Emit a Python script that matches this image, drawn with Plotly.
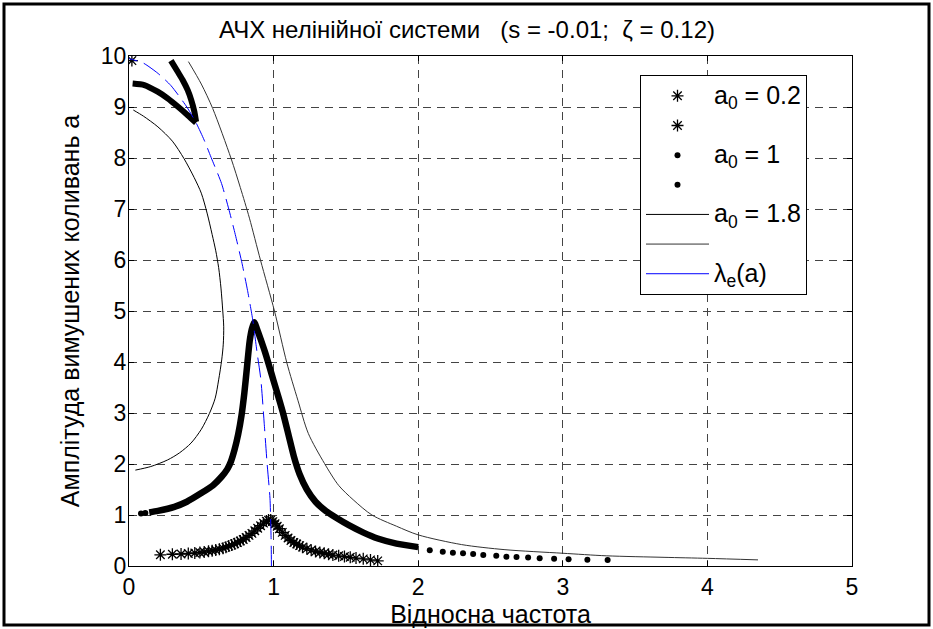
import plotly.graph_objects as go

# ---------------- data ----------------
# a0 = 0.2, lower branch (asterisks)
x02_lo = [0.217, 0.30, 0.36, 0.41, 0.455, 0.49, 0.52, 0.55, 0.575, 0.60, 0.625, 0.65, 0.67, 0.69, 0.71,
          0.73, 0.75, 0.77, 0.79, 0.81, 0.83, 0.85, 0.87, 0.89, 0.91, 0.93, 0.95, 0.965, 0.98, 0.995,
          1.01, 1.025, 1.04, 1.06, 1.08, 1.10, 1.12, 1.14, 1.16, 1.18, 1.20, 1.23, 1.26, 1.29, 1.32,
          1.35, 1.38, 1.41, 1.45, 1.49, 1.53, 1.57, 1.62, 1.67, 1.72]
y02_lo = [0.22, 0.23, 0.235, 0.245, 0.255, 0.265, 0.275, 0.29, 0.30, 0.315, 0.33, 0.35, 0.37, 0.39, 0.41,
          0.435, 0.46, 0.49, 0.52, 0.56, 0.60, 0.64, 0.69, 0.74, 0.79, 0.84, 0.88, 0.90, 0.90, 0.87,
          0.83, 0.78, 0.73, 0.66, 0.60, 0.55, 0.50, 0.46, 0.43, 0.40, 0.37, 0.34, 0.31, 0.285, 0.265,
          0.25, 0.23, 0.215, 0.20, 0.185, 0.17, 0.155, 0.14, 0.12, 0.10]
# a0 = 0.2, upper branch
x02_up = [0.02]
y02_up = [9.91]

# a0 = 1, lower branch (dense dots -> thick band)
x1_lo = [0.14, 0.2, 0.314, 0.4, 0.5, 0.58, 0.64, 0.68, 0.705, 0.73, 0.755, 0.778, 0.798, 0.816, 0.834,
         0.85, 0.866, 0.885, 0.91, 0.94, 0.97, 1.0, 1.035, 1.07, 1.105, 1.14, 1.18, 1.23, 1.29, 1.36,
         1.43, 1.52, 1.618, 1.72, 1.85, 2.0]
y1_lo = [1.05, 1.08, 1.16, 1.26, 1.43, 1.58, 1.75, 1.90, 2.05, 2.28, 2.58, 2.95, 3.40, 3.90, 4.40,
         4.65, 4.78, 4.65, 4.45, 4.20, 3.92, 3.63, 3.30, 2.95, 2.55, 2.15, 1.80, 1.50, 1.26, 1.08,
         0.95, 0.80, 0.66, 0.54, 0.44, 0.37]
# a0 = 1, separate dots at the start and the sparse tail
x1_dots = [0.083, 0.113, 2.08, 2.17, 2.24, 2.31, 2.38, 2.45, 2.54, 2.61, 2.68, 2.76, 2.84, 2.94, 3.04,
           3.17, 3.31]
y1_dots = [1.03, 1.04, 0.31, 0.28, 0.26, 0.25, 0.235, 0.215, 0.20, 0.18, 0.175, 0.165, 0.15, 0.14, 0.13,
           0.125, 0.12]
# a0 = 1, upper branches
x1_upA = [0.025, 0.106, 0.198, 0.267, 0.337, 0.406, 0.464]
y1_upA = [9.46, 9.43, 9.30, 9.17, 9.01, 8.84, 8.69]
x1_upB = [0.29, 0.337, 0.371, 0.406, 0.43, 0.452, 0.464]
y1_upB = [9.91, 9.69, 9.53, 9.33, 9.14, 8.91, 8.71]

# a0 = 1.8, inner (closed) curve
x18_in = [0.03, 0.1, 0.2, 0.3, 0.38, 0.45, 0.5, 0.54, 0.575, 0.6, 0.62, 0.636, 0.648, 0.655, 0.652,
          0.641, 0.62, 0.596, 0.556, 0.5, 0.429, 0.35, 0.267, 0.15, 0.044]
y18_in = [8.94, 8.82, 8.61, 8.33, 7.99, 7.62, 7.31, 6.92, 6.50, 6.18, 5.85, 5.45, 5.02, 4.69, 4.35,
          4.04, 3.65, 3.29, 2.99, 2.68, 2.41, 2.22, 2.08, 1.95, 1.88]
# a0 = 1.8, outer curve
x18_out = [0.411, 0.5, 0.579, 0.706, 0.77, 0.833, 0.909, 1.006, 1.091, 1.168, 1.24, 1.352, 1.45, 1.55,
           1.68, 1.85, 2.0, 2.3, 2.6, 3.0, 3.3, 3.7, 4.0, 4.35]
y18_out = [9.89, 9.45, 8.97, 7.99, 7.42, 6.82, 6.0, 5.0, 3.99, 3.25, 2.6, 2.01, 1.58, 1.3,
           1.0, 0.78, 0.61, 0.42, 0.32, 0.25, 0.2, 0.17, 0.15, 0.12]

# backbone lambda_e(a)
xe = [0.985, 0.983, 0.975, 0.955, 0.935, 0.912, 0.885, 0.856, 0.82, 0.782, 0.735, 0.69, 0.64, 0.568,
      0.52, 0.464, 0.40, 0.29, 0.2, 0.10, 0.0]
ye = [0.0, 0.5, 1.33, 2.01, 2.8, 3.65, 4.2, 4.82, 5.4, 5.93, 6.5, 7.0, 7.5, 8.01,
      8.35, 8.69, 9.0, 9.42, 9.66, 9.86, 9.95]

xticks = [0, 1, 2, 3, 4, 5]
yticks = [0, 1, 2, 3, 4, 5, 6, 7, 8, 9, 10]

title_text = "АЧХ нелінійної системи\u00a0\u00a0\u00a0(s = -0.01;\u00a0\u00a0ζ = 0.12)"
xlabel = "Відносна частота"
ylabel = "Амплітуда вимушених коливань a"
legend_labels = ["a<sub>0</sub> = 0.2", " ", "a<sub>0</sub> = 1", "  ", "a<sub>0</sub> = 1.8", "   ",
                 "λ<sub>e</sub>(a)"]

# ---------------- figure ----------------
W, H = 933, 629
L, R, T, B = 129, 81, 56, 63
PW, PH = W - L - R, H - T - B


def px(p):
    return (p - L) / PW


def py(p):
    return (H - B - p) / PH


def big(s):
    return '<span style="font-size:25px">' + s + '</span>' if s.strip() else s


names = [big(s) for s in legend_labels]

FONT = "Liberation Sans, Arial, sans-serif"
fig = go.Figure()

ast = dict(symbol="asterisk-open", size=10, color="black", line=dict(color="black", width=1.3))
dot = dict(symbol="circle", size=6, color="black", line=dict(width=0))

fig.add_trace(go.Scatter(x=x02_lo, y=y02_lo, mode="markers", marker=ast, name=names[0]))
fig.add_trace(go.Scatter(x=x02_up, y=y02_up, mode="markers", marker=ast, name=names[1]))

fig.add_trace(go.Scatter(x=x1_lo, y=y1_lo, mode="lines",
                         line=dict(color="black", width=6.5, shape="spline", smoothing=0.6),
                         showlegend=False))
fig.add_trace(go.Scatter(x=x1_dots, y=y1_dots, mode="markers", marker=dot, name=names[2]))
fig.add_trace(go.Scatter(x=x1_upA, y=y1_upA, mode="lines",
                         line=dict(color="black", width=6, shape="spline", smoothing=0.6),
                         showlegend=False))
fig.add_trace(go.Scatter(x=x1_upB, y=y1_upB, mode="lines",
                         line=dict(color="black", width=6, shape="spline", smoothing=0.6),
                         showlegend=False))
fig.add_trace(go.Scatter(x=[None], y=[None], mode="markers", marker=dot, name=names[3]))

fig.add_trace(go.Scatter(x=x18_in, y=y18_in, mode="lines",
                         line=dict(color="black", width=1, shape="spline", smoothing=0.8),
                         name=names[4]))
fig.add_trace(go.Scatter(x=x18_out, y=y18_out, mode="lines",
                         line=dict(color="#333333", width=1, shape="spline", smoothing=0.8),
                         name=names[5]))

fig.add_trace(go.Scatter(x=xe, y=ye, mode="lines",
                         line=dict(color="#0000ff", width=1, dash="20px,7px", shape="spline", smoothing=0.6),
                         showlegend=False))
fig.add_trace(go.Scatter(x=[None], y=[None], mode="lines", line=dict(color="#0000ff", width=1),
                         name=names[6]))

axis_common = dict(
    showline=True, linecolor="black", linewidth=1, mirror="ticks",
    ticks="inside", ticklen=5, tickcolor="black",
    showgrid=True, gridcolor="#444444", gridwidth=1, griddash="8px,6px",
    zeroline=False,
    tickfont=dict(family=FONT, size=23, color="black"),
)

fig.update_xaxes(range=[0, 5], tickvals=xticks, ticktext=[str(v) for v in xticks],
                 ticklabelstandoff=0,
                 title=dict(text=xlabel, font=dict(family=FONT, size=25, color="black"), standoff=0),
                 **axis_common)
fig.update_yaxes(range=[0, 10], tickvals=yticks, ticktext=[str(v) for v in yticks],
                 ticklabelstandoff=-3,
                 title=dict(text=ylabel, font=dict(family=FONT, size=25, color="black"), standoff=14),
                 **axis_common)

fig.update_layout(
    width=W, height=H,
    margin=dict(l=L, r=R, t=T, b=B, pad=0),
    paper_bgcolor="white", plot_bgcolor="white",
    font=dict(family=FONT, color="black"),
    title=dict(text=title_text, font=dict(family=FONT, size=24, color="black"),
               x=px(467), xref="paper", xanchor="center",
               y=1 - 30 / H, yref="container", yanchor="middle"),
    legend=dict(x=px(640), y=py(75), xanchor="left", yanchor="top",
                bgcolor="white", bordercolor="black", borderwidth=1,
                font=dict(family=FONT, size=20.5, color="black"),
                itemwidth=63, tracegroupgap=0),
    shapes=[dict(type="rect", xref="paper", yref="paper",
                 x0=px(4), x1=px(929), y0=py(625), y1=py(4),
                 line=dict(color="black", width=3), fillcolor="rgba(0,0,0,0)", layer="above")],
)

fig.write_html("out.html", config={"displayModeBar": False},
               post_script="document.body.style.margin='0';")
